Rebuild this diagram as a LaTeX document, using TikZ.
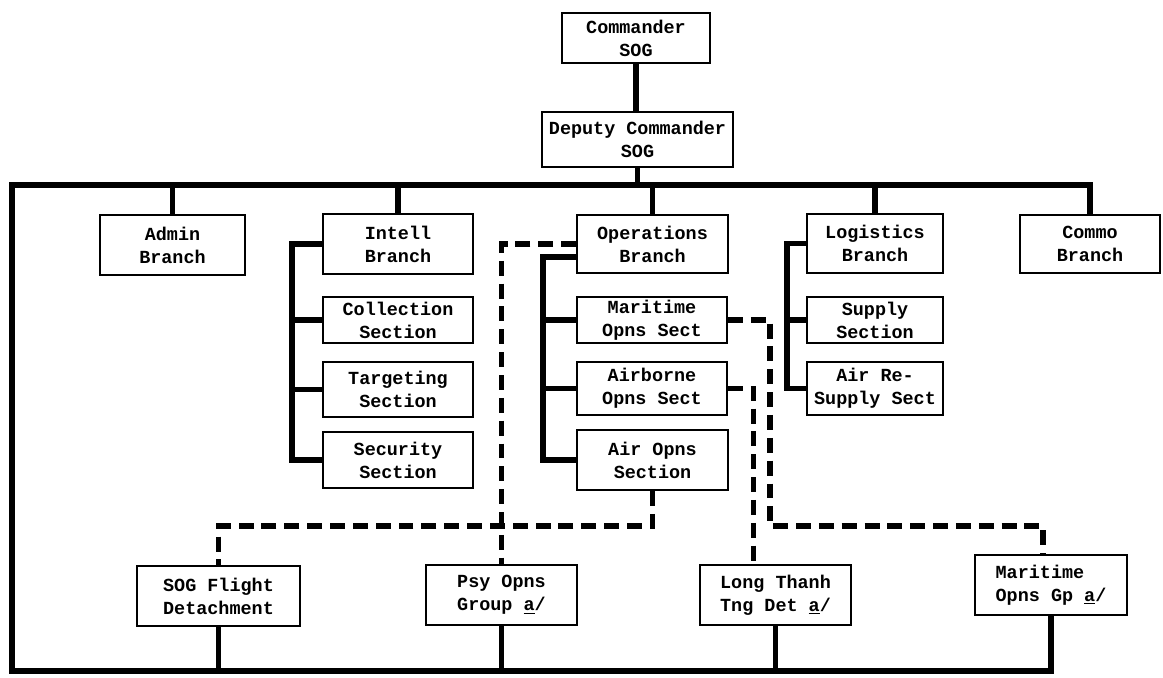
\documentclass[tikz,border=0pt]{standalone}
\usepackage{fontspec}
\setmonofont{Liberation Mono}
\usetikzlibrary{positioning,calc}

\tikzset{
  unit/.style={draw, line width=1.1pt, align=center, inner sep=1pt, fill=white,
    font=\ttfamily\bfseries\fontsize{10.5}{13}\selectfont},
  lien/.style={line width=3.4pt},
  pointille/.style={line width=3.3pt, dash pattern=on 8.5pt off 4.5pt},
}

\begin{document}
\begin{tikzpicture}[x=0.02cm, y=-0.02cm]

    % 1 unité = 1 pixel de l'organigramme d'origine (y vers le bas)
    \useasboundingbox (0,0) rectangle (1163,678);

    % Paramètres
    \def\busY{185}      % barre horizontale haute
    \def\botY{671}      % barre horizontale basse
    \def\leftX{12}      % barre verticale gauche
    \def\dashY{526}     % liaisons en pointillé

    % =========================================================================
    % COMMANDEMENT
    % =========================================================================
    \node[unit, minimum width=2.96cm, minimum height=1cm] (cmd) at (636,38) {Commander\\SOG};
    \node[unit, minimum width=3.82cm, minimum height=1.1cm] (dep) at (637.5,139.5) {Deputy Commander\\SOG};

    % =========================================================================
    % BRANCHES
    % =========================================================================
    \node[unit, minimum width=2.9cm, minimum height=1.2cm] (admin) at (172.5,245) {Admin\\Branch};
    \node[unit, minimum width=3cm, minimum height=1.2cm] (intell) at (398,244) {Intell\\Branch};
    \node[unit, minimum width=3.02cm, minimum height=1.16cm] (ops) at (652.5,244) {Operations\\Branch};
    \node[unit, minimum width=2.72cm, minimum height=1.18cm] (log) at (875,243.5) {Logistics\\Branch};
    \node[unit, minimum width=2.8cm, minimum height=1.16cm] (commo) at (1090,244) {Commo\\Branch};

    % =========================================================================
    % SECTIONS
    % =========================================================================
    \node[unit, minimum width=3cm, minimum height=0.92cm] (coll) at (398,320) {Collection\\Section};
    \node[unit, minimum width=3cm, minimum height=1.1cm] (targ) at (398,389.5) {Targeting\\Section};
    \node[unit, minimum width=3cm, minimum height=1.12cm] (secu) at (398,460) {Security\\Section};

    \node[unit, minimum width=3cm, minimum height=0.92cm] (marsect) at (652,320) {Maritime\\Opns Sect};
    \node[unit, minimum width=3cm, minimum height=1.06cm] (airb) at (652,388.5) {Airborne\\Opns Sect};
    \node[unit, minimum width=3.02cm, minimum height=1.2cm] (airops) at (652.5,460) {Air Opns\\Section};

    \node[unit, minimum width=2.72cm, minimum height=0.92cm] (supply) at (875,320) {Supply\\Section};
    \node[unit, minimum width=2.72cm, minimum height=1.06cm] (resup) at (875,388.5) {Air Re-\\Supply Sect};

    % =========================================================================
    % UNITÉS RATTACHÉES
    % =========================================================================
    \node[unit, align=left, minimum width=3.26cm, minimum height=1.2cm] (flight) at (218.5,596) {SOG Flight\\Detachment};
    \node[unit, minimum width=3.02cm, minimum height=1.2cm] (psy) at (501.5,595) {Psy Opns\\Group \underline{a}/};
    \node[unit, minimum width=3.02cm, minimum height=1.2cm] (long) at (775.5,595) {Long Thanh\\Tng Det \underline{a}/};
    \node[unit, align=left, minimum width=3.04cm, minimum height=1.2cm] (margp) at (1051,585) {Maritime\\Opns Gp \underline{a}/};

    % =========================================================================
    % LIAISONS HIÉRARCHIQUES
    % =========================================================================
    \coordinate (busL) at (\leftX,\busY);
    \coordinate (botL) at (\leftX,\botY);
    \coordinate (ibr) at (292,0);
    \coordinate (obr) at (543,0);
    \coordinate (lbr) at (787,0);

    \draw[lien] (cmd.south) -- (cmd.south |- dep.north);
    \draw[lien] (dep.south) -- (dep.south |- busL);
    \draw[lien] (commo.north) |- (busL) -- (botL) -| (margp.south);

    \foreach \n in {admin,intell,ops,log} {
        \draw[lien] (\n.north) -- (\n.north |- busL);
    }
    \foreach \n in {flight,psy,long} {
        \draw[lien] (\n.south) -- (\n.south |- botL);
    }

    % Accolades des sections
    \draw[lien] (intell.west) -- (intell.west -| ibr) |- (secu.west);
    \foreach \n in {coll,targ} {
        \draw[lien] (\n.west) -- (\n.west -| ibr);
    }
    \draw[lien] (ops.190) -- (ops.190 -| obr) |- (airops.west);
    \foreach \n in {marsect,airb} {
        \draw[lien] (\n.west) -- (\n.west -| obr);
    }
    \draw[lien] (log.west) -- (log.west -| lbr) |- (resup.west);
    \draw[lien] (supply.west) -- (supply.west -| lbr);

    % =========================================================================
    % LIAISONS OPÉRATIONNELLES (pointillé)
    % =========================================================================
    \coordinate (dashL) at (0,\dashY);
    \coordinate (mjog) at (770,\dashY);

    \draw[pointille] (ops.west) -| (psy.north);
    \draw[pointille] (airops.south) |- (flight.north |- dashL) -- (flight.north);
    \draw[pointille] (marsect.east) -| (mjog) -| ($(margp.north)+(-8,0)$);
    \draw[pointille] (airb.east) -| ($(long.north)+(-22,0)$);

\end{tikzpicture}
\end{document}
